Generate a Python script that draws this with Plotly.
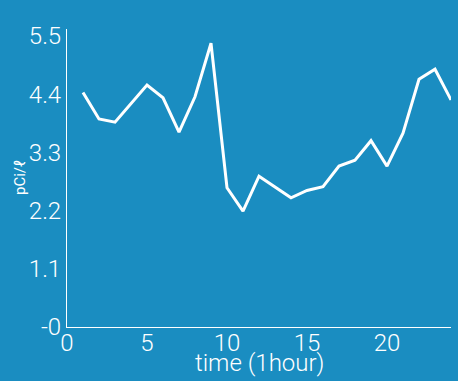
import plotly.graph_objects as go

hours = list(range(1, 25))
radon = [4.43, 3.93, 3.87, 4.22, 4.57, 4.33, 3.68, 4.35, 5.36, 2.63, 2.19, 2.85,
         2.64, 2.44, 2.58, 2.65, 3.04, 3.15, 3.52, 3.04, 3.66, 4.68, 4.87, 4.29]
y_tickvals = [0, 1.1, 2.2, 3.3, 4.4, 5.5]
y_ticktext = ["-0", "1.1", "2.2", "3.3", "4.4", "5.5"]
x_tickvals = [0, 5, 10, 15, 20]

bg = "#1a8dc1"
fig = go.Figure(go.Scatter(x=hours, y=radon, mode="lines",
                           line=dict(color="white", width=3)))
fig.update_layout(
    width=458, height=381,
    paper_bgcolor=bg, plot_bgcolor=bg,
    margin=dict(l=67, r=7, t=29, b=54),
    font=dict(family="Roboto", color="white"),
    showlegend=False,
)
tf = dict(size=24, weight=300)
fig.update_xaxes(range=[0, 24], tickvals=x_tickvals, showgrid=False, zeroline=False,
                 showline=True, linecolor="white", linewidth=1, automargin=False,
                 tickfont=tf, ticks="", ticklen=0, ticklabelstandoff=-6)
fig.update_yaxes(range=[0, 5.63], tickvals=y_tickvals, ticktext=y_ticktext,
                 showgrid=False, zeroline=False, automargin=False,
                 showline=True, linecolor="white", linewidth=1,
                 tickfont=tf, ticks="", ticklen=0)
fig.add_annotation(text="time (1hour)", xref="paper", yref="paper", x=0.5, y=0,
                   yshift=-36, yanchor="middle", showarrow=False,
                   font=dict(size=24, weight=300))
fig.add_annotation(text="pCi/ℓ", xref="paper", yref="paper", x=0, xshift=-47,
                   xanchor="center", y=0.5, yanchor="middle", textangle=-90,
                   showarrow=False, font=dict(size=15))
fig.write_html("out.html", config={"displayModeBar": False},
               post_script="document.body.style.margin='0';"
                           "document.body.style.background='" + bg + "';")
